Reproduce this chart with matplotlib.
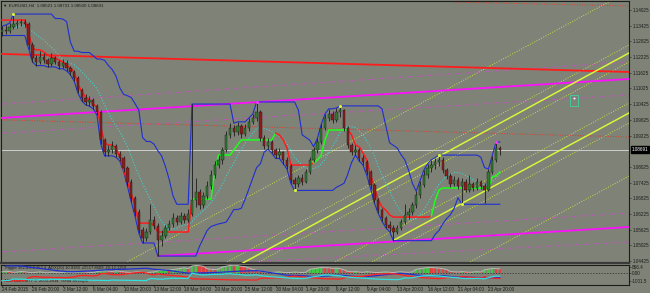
import numpy as np
import pandas as pd
import matplotlib.pyplot as plt
from matplotlib.patches import Rectangle
from matplotlib.transforms import blended_transform_factory

plt.rcParams['font.family'] = ['Liberation Sans', 'DejaVu Sans']

# EURUSD H4 (one bar here ~ 8 hours), 24 Feb - 23 Apr 2015
first_open = 1.1318
closes = [
    1.1326, 1.1322, 1.1338, 1.1349, 1.1353, 1.1357, 1.1349, 1.1269,
    1.1219, 1.1204, 1.1223, 1.1211, 1.1196, 1.1219, 1.1204, 1.1189,
    1.1200, 1.1181, 1.1166, 1.1143, 1.1097, 1.1066, 1.1051, 1.1059,
    1.1036, 1.1013, 1.0906, 1.0860, 1.0867, 1.0883, 1.0852, 1.0837,
    1.0799, 1.0745, 1.0684, 1.0630, 1.0562, 1.0531, 1.0554, 1.0600,
    1.0577, 1.0523, 1.0539, 1.0569, 1.0585, 1.0608, 1.0592, 1.0615,
    1.0600, 1.0623, 1.0676, 1.0707, 1.0657, 1.0692, 1.0730, 1.0772,
    1.0810, 1.0829, 1.0867, 1.0925, 1.0952, 1.0936, 1.0959, 1.0929,
    1.0952, 1.0974, 1.0990, 1.1013, 1.0913, 1.0883, 1.0898, 1.0867,
    1.0848, 1.0860, 1.0829, 1.0806, 1.0753, 1.0737, 1.0760, 1.0745,
    1.0783, 1.0829, 1.0867, 1.0898, 1.0952, 1.0990, 1.1005, 1.0982,
    1.1013, 1.1020, 1.0952, 1.0887, 1.0860, 1.0867, 1.0837, 1.0822,
    1.0783, 1.0734, 1.0676, 1.0638, 1.0608, 1.0581, 1.0569, 1.0554,
    1.0569, 1.0592, 1.0619, 1.0630, 1.0657, 1.0695, 1.0734, 1.0772,
    1.0799, 1.0810, 1.0822, 1.0829, 1.0791, 1.0768, 1.0737, 1.0753,
    1.0730, 1.0745, 1.0715, 1.0737, 1.0722, 1.0745, 1.0730, 1.0715,
    1.0783, 1.0829, 1.0875, 1.0869,
]
highs = [
    1.1340, 1.1345, 1.1352, 1.1387, 1.1366, 1.1370, 1.1368, 1.1358,
    1.1280, 1.1232, 1.1245, 1.1238, 1.1220, 1.1240, 1.1228, 1.1212,
    1.1215, 1.1210, 1.1190, 1.1175, 1.1150, 1.1105, 1.1080, 1.1075,
    1.1068, 1.1045, 1.1020, 1.0915, 1.0885, 1.0900, 1.0890, 1.0865,
    1.0845, 1.0805, 1.0755, 1.0692, 1.0640, 1.0575, 1.0568, 1.0660,
    1.0615, 1.0590, 1.0560, 1.0580, 1.0600, 1.0625, 1.0620, 1.0632,
    1.0628, 1.0640, 1.1043, 1.0760, 1.0720, 1.0705, 1.0748, 1.0790,
    1.0825, 1.0850, 1.0880, 1.0940, 1.0970, 1.0962, 1.0975, 1.0968,
    1.0965, 1.0990, 1.1005, 1.1051, 1.1020, 1.0925, 1.0915, 1.0905,
    1.0875, 1.0875, 1.0865, 1.0840, 1.0812, 1.0765, 1.0772, 1.0775,
    1.0795, 1.0840, 1.0880, 1.0912, 1.0965, 1.1005, 1.1025, 1.1015,
    1.1028, 1.1036, 1.1025, 1.0960, 1.0895, 1.0885, 1.0875, 1.0850,
    1.0830, 1.0790, 1.0740, 1.0685, 1.0645, 1.0615, 1.0595, 1.0580,
    1.0582, 1.0605, 1.0660, 1.0645, 1.0670, 1.0710, 1.0750, 1.0790,
    1.0815, 1.0830, 1.0838, 1.0848, 1.0840, 1.0800, 1.0780, 1.0768,
    1.0765, 1.0760, 1.0755, 1.0770, 1.0745, 1.0760, 1.0752, 1.0740,
    1.0795, 1.0845, 1.0898, 1.0882,
]
lows = [
    1.1305, 1.1310, 1.1315, 1.1330, 1.1335, 1.1340, 1.1336, 1.1255,
    1.1205, 1.1190, 1.1198, 1.1200, 1.1185, 1.1190, 1.1195, 1.1178,
    1.1180, 1.1170, 1.1155, 1.1130, 1.1085, 1.1055, 1.1040, 1.1035,
    1.1025, 1.1000, 1.0890, 1.0845, 1.0845, 1.0855, 1.0840, 1.0825,
    1.0785, 1.0730, 1.0670, 1.0615, 1.0550, 1.0512, 1.0520, 1.0545,
    1.0565, 1.0462, 1.0500, 1.0530, 1.0560, 1.0575, 1.0580, 1.0585,
    1.0588, 1.0592, 1.0615, 1.0650, 1.0640, 1.0645, 1.0680, 1.0720,
    1.0760, 1.0800, 1.0815, 1.0860, 1.0915, 1.0920, 1.0925, 1.0915,
    1.0920, 1.0940, 1.0965, 1.0980, 1.0900, 1.0870, 1.0870, 1.0855,
    1.0835, 1.0838, 1.0815, 1.0795, 1.0740, 1.0713, 1.0725, 1.0732,
    1.0740, 1.0775, 1.0820, 1.0855, 1.0890, 1.0945, 1.0980, 1.0970,
    1.0975, 1.0995, 1.0940, 1.0875, 1.0848, 1.0850, 1.0825, 1.0810,
    1.0770, 1.0720, 1.0665, 1.0625, 1.0595, 1.0570, 1.0555, 1.0521,
    1.0545, 1.0560, 1.0585, 1.0605, 1.0620, 1.0645, 1.0685, 1.0725,
    1.0760, 1.0785, 1.0795, 1.0805, 1.0780, 1.0755, 1.0725, 1.0730,
    1.0718, 1.0660, 1.0705, 1.0708, 1.0710, 1.0715, 1.0718, 1.0665,
    1.0710, 1.0775, 1.0820, 1.0850,
]

# trailing stop line (red while short, green while long)
trail = [
    1.1364, 1.1364, 1.1364, 1.1364, 1.1364, 1.1364, 1.1364, 1.1315,
    1.1257, 1.1250, 1.1250, 1.1242, 1.1231, 1.1223, 1.1219, 1.1211,
    1.1204, 1.1192, 1.1181, 1.1166, 1.1120, 1.1089, 1.1070, 1.1059,
    1.1043, 1.1032, 1.0955, 1.0894, 1.0887, 1.0887, 1.0875, 1.0841,
    1.0791, 1.0745, 1.0703, 1.0650, 1.0588, 1.0588, 1.0588, 1.0588,
    1.0580, 1.0554, 1.0554, 1.0554, 1.0554, 1.0554, 1.0554, 1.0554,
    1.0554, 1.0554, 1.0680, 1.0680, 1.0680, 1.0680, 1.0680, 1.0680,
    1.0791, 1.0848, 1.0848, 1.0848, 1.0848, 1.0867, 1.0887, 1.0906,
    1.0906, 1.0906, 1.0906, 1.0906, 1.0906, 1.0906, 1.0906, 1.0906,
    1.0932, 1.0925, 1.0906, 1.0875, 1.0810, 1.0810, 1.0810, 1.0810,
    1.0810, 1.0810, 1.0818, 1.0829, 1.0848, 1.0906, 1.0944, 1.0944,
    1.0944, 1.0944, 1.0944, 1.0944, 1.0925, 1.0887, 1.0880, 1.0856,
    1.0829, 1.0772, 1.0726, 1.0676, 1.0650, 1.0638, 1.0619, 1.0611,
    1.0611, 1.0611, 1.0611, 1.0611, 1.0611, 1.0611, 1.0611, 1.0611,
    1.0611, 1.0615, 1.0676, 1.0715, 1.0722, 1.0722, 1.0722, 1.0722,
    1.0722, 1.0722, 1.0722, 1.0722, 1.0722, 1.0722, 1.0722, 1.0722,
    1.0722, 1.0764, 1.0768, 1.0783,
]
trail_flips = [0, 50, 72, 82, 91, 113]   # starts short (red)

# indicator window histogram ("Trigger")
trigger = [
    150, 220, 180, 90, 120, 200, 160, 80,
    40, 90, 140, 60, 0, 110, 70, 30,
    80, 130, 60, 20, 90, 150, 110, 60, 40,
    180, 260, 300, 240, 190, 280, 220, 150,
    90, 60, 120, 150, 80, 40, 100, 130,
    300, 380, 420, 360, 450,
    520, 610, 680, 560,
    920, 990, 960, 880,
    560, 480, 450, 520,
    800, 900, 990, 960, 980, 870, 820,
    640, 480, 350, 240,
    150, 90, 60, 110, 140, 80, 40, 70, 120, 90, 50, 100,
    480, 560, 650, 720, 700, 680, 600, 640, 560, 420,
    200, 150, 180, 120, 90, 160, 110, 70,
    60, 100, 140, 90, 50, 120, 160, 110, 80, 150,
    480, 560, 640, 720, 700, 690, 620, 560, 450,
    200, 150, 120, 180, 140, 90, 130, 170, 110,
    420, 500, 590, 560, 540,
]

# drawn objects, anchors as (bar, price)
red_line = [(-1, 1.1235), (165, 1.11655)]
magenta_lines = [[(-1, 1.0989), (165, 1.11388)], [(41, 1.0462), (165, 1.05731)]]
magenta_dotted = [[(-1, 1.1042), (165, 1.12038)], [(-1, 1.0931), (165, 1.10776)],
                  [(-1, 1.0477), (165, 1.06266)], [(60, 1.04355), (165, 1.05158)]]
red_dotted = [[(118.7, 1.14331), (165, 1.14178)], [(-1, 1.0983), (165, 1.09171)]]
yellow_solid = [[(63.4, 1.04355), (165, 1.12382)], [(103.2, 1.05234), (165, 1.10088)]]
yellow_dotted = [[(32.4, 1.04355), (165, 1.14751)], [(58.7, 1.04355), (165, 1.12687)],
                 [(67.1, 1.04355), (165, 1.12038)], [(87.1, 1.04355), (165, 1.10471)],
                 [(96.8, 1.04355), (165, 1.09706)], [(122.6, 1.04355), (165, 1.07680)]]
yellow_high_marks = [3, 89, 115]
yellow_low_marks = [77, 121]
magenta_high_marks = [67, 130]
label_box = [149.5, 151.6, 1.1036, 1.1078]

last_price = 1.08691
price_ticks = [1.14025, 1.13425, 1.12825, 1.12225, 1.11625, 1.11025, 1.10425, 1.09825,
               1.09225, 1.08025, 1.07425, 1.06825, 1.06225, 1.05625, 1.05025, 1.04425]
date_labels = ['24 Feb 2015', '26 Feb 20:00', '3 Mar 12:00', '6 Mar 04:00', '10 Mar 20:00',
               '13 Mar 12:00', '18 Mar 04:00', '20 Mar 20:00', '25 Mar 12:00', '30 Mar 04:00',
               '1 Apr 20:00', '6 Apr 12:00', '9 Apr 04:00', '13 Apr 20:00', '16 Apr 12:00',
               '21 Apr 04:00', '23 Apr 20:00']

bg = '#7f8276'
dark = '#1c1c1c'

c = pd.Series(closes)
h = pd.Series(highs)
l = pd.Series(lows)
o = c.shift(1).fillna(first_open)
n = len(c)
x = np.arange(n)

fig = plt.figure(figsize=(6.5, 2.93), dpi=100, facecolor=bg)
ax = fig.add_axes([1/650, 30/293, 628/650, 262/293], facecolor=bg)
ax2 = fig.add_axes([1/650, 8.5/293, 628/650, 20/293], facecolor=bg)

ax.set_xlim(-0.26, 165)
ax.set_ylim(1.04355, 1.14369)

# objects behind price
def seg(a, pts, **kw):
    a.plot([pts[0][0], pts[1][0]], [pts[0][1], pts[1][1]], **kw)

dot = (0, (1, 1.6))
for pts in yellow_dotted:
    seg(ax, pts, color='#c9dd4a', lw=0.7, ls=dot, zorder=2)
for pts in magenta_dotted:
    seg(ax, pts, color='#d048d0', lw=0.7, ls=dot, zorder=2)
for pts in red_dotted:
    seg(ax, pts, color='#e03a2a', lw=0.7, ls=dot, zorder=2)
seg(ax, red_line, color='#ff1c1c', lw=1.3, zorder=3)
for pts in magenta_lines:
    seg(ax, pts, color='#ff10ff', lw=1.3, zorder=3)
for pts in yellow_solid:
    seg(ax, pts, color='#d8f53a', lw=1.1, zorder=3)

ax.axhline(last_price, color='#cfcfcf', lw=0.7, zorder=2)

# donchian channel and average
upper = h.rolling(11, min_periods=1).max()
lower = l.rolling(11, min_periods=1).min()
ax.plot(x, upper, color='#1f2fd0', lw=0.8, zorder=4)
ax.plot(x, lower, color='#1f2fd0', lw=0.8, zorder=4)
ax.plot(x, c.rolling(10, min_periods=1).mean(), color='#3fd3d3', lw=0.8, ls=dot, zorder=4)

# trailing stop
tr = np.array(trail)
flips = trail_flips + [n - 1]
for k in range(len(trail_flips)):
    s, e = flips[k], flips[k + 1]
    col = '#ff1c1c' if k % 2 == 0 else '#1cff1c'
    ax.plot(x[s:e + 1], tr[s:e + 1], color=col, lw=1.1, zorder=5)

# candles
up = c >= o
body_lo = np.minimum(o, c)
body_h = np.maximum(np.abs(c - o), 0.00008)
ax.vlines(x, l, h, color=dark, lw=0.6, zorder=6)
ax.bar(x, body_h, bottom=body_lo, width=0.62,
       color=np.where(up, '#2f7a2f', '#8e1c1c'), edgecolor=dark, lw=0.3, zorder=7)

# fractal marks
ax.scatter(yellow_high_marks, h[yellow_high_marks], s=5, color='#d8f53a', zorder=8, lw=0)
ax.scatter(yellow_low_marks, l[yellow_low_marks], s=5, color='#d8f53a', zorder=8, lw=0)
ax.scatter(magenta_high_marks, h[magenta_high_marks], s=5, color='#ff30ff', zorder=8, lw=0)

bx0, bx1, by0, by1 = label_box
ax.add_patch(Rectangle((bx0, by0), bx1 - bx0, by1 - by0, facecolor='none',
                       edgecolor='#3fd3a0', lw=0.6, zorder=8))
ax.scatter([(bx0 + bx1) / 2], [by1 - (by1 - by0) * 0.3], s=2, color='white', zorder=9, lw=0)

# axes styling
ax.yaxis.tick_right()
ax.set_yticks(price_ticks)
ax.set_yticklabels([f'{p:.5f}' for p in price_ticks])
ax.set_xticks([])
ax.tick_params(axis='y', labelsize=3.3, length=1.5, width=0.4, pad=0.8, colors=dark)
for sp in ax.spines.values():
    sp.set_color(dark)
    sp.set_linewidth(0.8)
ax.spines['bottom'].set_color('#3a3a3a')
ax.spines['bottom'].set_linewidth(1.6)

trf = blended_transform_factory(ax.transAxes, ax.transData)
ax.text(1.004, last_price, f'{last_price:.5f}', transform=trf, fontsize=3.3, color='white',
        va='center', ha='left', bbox=dict(facecolor='black', edgecolor='black', pad=0.5))
ax.text(0.003, 0.99, '\u25bc EURUSD,H4  1.08521 1.08731 1.08500 1.08691',
        transform=ax.transAxes, fontsize=3.2, va='top', ha='left', color=dark)

# indicator window
ax2.set_xlim(-0.26, 165)
ax2.set_ylim(-1532, 1122)
tg = np.array(trigger)
tg_col = np.where(np.diff(np.r_[tg[0], tg]) >= 0, '#42c842', '#e04040')
ax2.bar(x, tg, width=0.62, color=tg_col, lw=0, zorder=2)
ax2.plot(x, tg, color='#b8b8b8', lw=0.7, zorder=3)
ax2.axhline(0, color='#2a2a2a', lw=0.5, ls=(0, (2, 2)), zorder=1)


def adx_lines(hh, ll, cc, per):
    dup = hh.diff()
    ddn = -ll.diff()
    pdm = pd.Series(np.where((dup > ddn) & (dup > 0), dup, 0.0))
    mdm = pd.Series(np.where((ddn > dup) & (ddn > 0), ddn, 0.0))
    rng = pd.concat([hh - ll, (hh - cc.shift()).abs(), (ll - cc.shift()).abs()], axis=1).max(axis=1)
    atr = rng.ewm(alpha=1 / per, adjust=False).mean()
    pdi = 100 * pdm.ewm(alpha=1 / per, adjust=False).mean() / atr
    mdi = 100 * mdm.ewm(alpha=1 / per, adjust=False).mean() / atr
    dx = 100 * (pdi - mdi).abs() / (pdi + mdi)
    return dx.ewm(alpha=1 / per, adjust=False).mean(), pdi, mdi


adx, pdi, mdi = adx_lines(h, l, c, 10)
ax3 = ax2.twinx()
ax3.set_ylim(-25, 110)
ax3.plot(x, adx, color='#2030d0', lw=0.9)
ax3.plot(x, mdi, color='#ff2020', lw=0.9)
ax3.plot(x, pdi, color='#30e0e0', lw=0.9)
ax3.set_yticks([])
for sp in ax3.spines.values():
    sp.set_visible(False)

ax2.yaxis.tick_right()
ax2.set_yticks([856.4, 0, -1001.5])
ax2.set_yticklabels(['856.4', '0.00', '-1001.5'])
ax2.set_xticks(np.arange(0, 8 * len(date_labels), 8))
ax2.set_xticklabels(date_labels, ha='left')
ax2.tick_params(axis='y', labelsize=3.3, length=1.5, width=0.4, pad=0.8, colors=dark)
ax2.tick_params(axis='x', labelsize=3.3, length=1.2, width=0.4, pad=0.4, colors=dark)
for sp in ax2.spines.values():
    sp.set_color(dark)
    sp.set_linewidth(0.8)
ax2.text(0.004, 0.95, 'Trigger 362.4 0.0 362.4  ADX(20) 10.9183 +DI:17.8609 -DI:12.1259',
         transform=ax2.transAxes, fontsize=3, va='top', ha='left', color=dark, zorder=5)
ax2.text(0.004, 0.08, 'ADX Lines MTF 4  2009-2014  Trend Strength',
         transform=ax2.transAxes, fontsize=3, va='bottom', ha='left', color=dark, zorder=5)

fig.savefig('out.png', dpi=100, facecolor=bg)
